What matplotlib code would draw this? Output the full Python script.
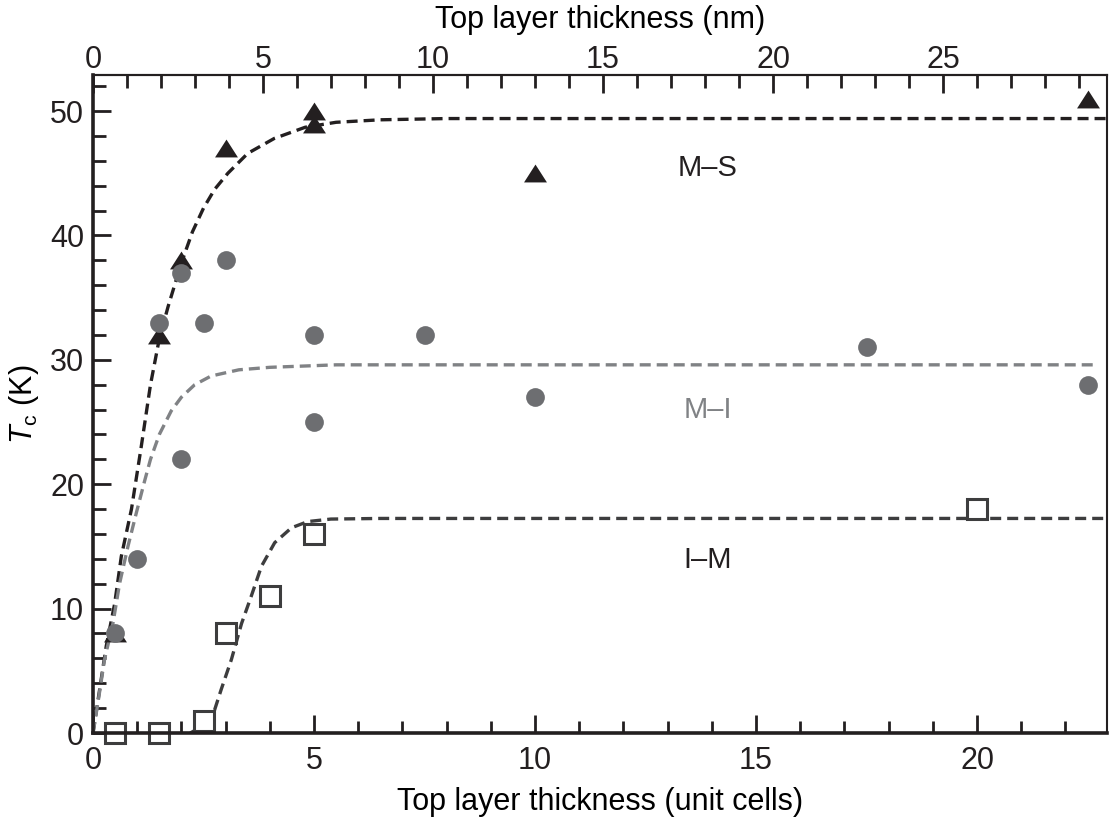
import matplotlib
matplotlib.use('Agg')
import matplotlib.pyplot as plt
from matplotlib.ticker import MultipleLocator

plt.rcParams['font.family'] = ['Liberation Sans', 'DejaVu Sans']
plt.rcParams['mathtext.fontset'] = 'custom'
plt.rcParams['mathtext.rm'] = 'Liberation Sans'
plt.rcParams['mathtext.it'] = 'Liberation Sans:italic'

# measured points
ms_x = [0.5, 1.5, 2, 3, 5, 5, 10, 22.5]
ms_y = [8, 32, 38, 47, 49, 50, 45, 51]

mi_x = [0.5, 1, 1.5, 2, 2, 2.5, 3, 5, 5, 7.5, 10, 17.5, 22.5]
mi_y = [8, 14, 33, 37, 22, 33, 38, 32, 25, 32, 27, 31, 28]

im_x = [0.5, 1.5, 2.5, 3, 4, 5, 20]
im_y = [0, 0, 1, 8, 11, 16, 18]

# dashed guide curves
ms_fit_x = [0, 0.15, 0.3, 0.49, 0.64, 0.87, 1.09, 1.3, 1.5, 1.7, 2.0, 2.25, 2.5, 2.75, 3.05, 3.5, 4.1, 4.8, 5.5, 6.5, 8, 22.94]
ms_fit_y = [0, 3.5, 7, 10.4, 14.2, 18.0, 23.0, 28.0, 31.7, 34.3, 37.8, 40.3, 42.2, 43.7, 45.0, 46.6, 47.8, 48.7, 49.1, 49.3, 49.4, 49.4]

mi_fit_x = [0, 0.11, 0.26, 0.45, 0.6, 0.79, 0.98, 1.17, 1.3, 1.5, 1.77, 2.0, 2.3, 2.67, 3.3, 4.0, 5.5, 7, 22.7]
mi_fit_y = [0, 2.4, 5.9, 8.8, 12.0, 15.0, 17.7, 20.3, 22.0, 24.0, 25.9, 27.0, 28.0, 28.7, 29.2, 29.4, 29.6, 29.6, 29.6]

im_fit_x = [2.2, 2.5, 2.75, 2.9, 3.13, 3.36, 3.58, 3.81, 4.11, 4.49, 4.86, 5.38, 6.5, 22.94]
im_fit_y = [0, 0.6, 1.85, 3.5, 5.9, 8.8, 11.0, 13.4, 15.3, 16.5, 17.0, 17.2, 17.25, 17.25]

uc_to_nm = 1.3

fig = plt.figure(figsize=(11.1, 8.19), dpi=100)
ax = fig.add_axes([0.0838, 0.105, 0.9135, 0.8034])

ax.plot(ms_fit_x, ms_fit_y, color='#231f20', lw=2.4, dashes=(3.3, 1.8))
ax.plot(mi_fit_x, mi_fit_y, color='#808285', lw=2.4, dashes=(3.3, 1.8))
ax.plot(im_fit_x, im_fit_y, color='#3d3d3e', lw=2.4, dashes=(3.3, 1.8))

tri = [(-1, -0.78), (1, -0.78), (0, 0.78), (-1, -0.78)]
ax.plot(ms_x, ms_y, ls='none', marker=tri, ms=16.5, mfc='#231f20', mec='#231f20', mew=0, clip_on=False)
ax.plot(mi_x, mi_y, ls='none', marker='o', ms=13.5, mfc='#6d6e71', mec='#6d6e71', mew=0, clip_on=False)
ax.plot(im_x, im_y, ls='none', marker='s', ms=14.5, mfc='white', mec='#3d3d3e', mew=2.2, clip_on=False)

ax.text(13.9, 45.4, 'M–S', fontsize=21, color='#231f20', ha='center', va='center')
ax.text(13.9, 26.0, 'M–I', fontsize=21, color='#808285', ha='center', va='center')
ax.text(13.9, 13.9, 'I–M', fontsize=21, color='#231f20', ha='center', va='center')

ax.set_xlim(0, 22.94)
ax.set_ylim(0, 52.9)

ax.xaxis.set_major_locator(MultipleLocator(5))
ax.xaxis.set_minor_locator(MultipleLocator(1))
ax.yaxis.set_major_locator(MultipleLocator(10))
ax.yaxis.set_minor_locator(MultipleLocator(2))

ax.tick_params(which='both', direction='in', top=False, right=False, labelsize=22, colors='#231f20')
ax.tick_params(which='major', length=13, width=2)
ax.tick_params(which='minor', length=9, width=2)
ax.tick_params(axis='x', pad=9)
ax.tick_params(axis='y', pad=6.4)

for s in ['left', 'bottom']:
    ax.spines[s].set_linewidth(2.6)
for s in ['top', 'right']:
    ax.spines[s].set_linewidth(1.5)
for s in ax.spines.values():
    s.set_color('#231f20')

ax.set_xlabel('Top layer thickness (unit cells)', fontsize=22, labelpad=8)
ax.set_ylabel(r'$T_{\mathrm{c}}$ (K)', fontsize=22, labelpad=6.4)

top = ax.secondary_xaxis('top', functions=(lambda x: x * uc_to_nm, lambda x: x / uc_to_nm))
top.set_xticks(range(0, 30, 5))
top.xaxis.set_minor_locator(MultipleLocator(1))
top.tick_params(which='both', direction='in', labelsize=22, colors='#231f20', pad=0)
top.tick_params(which='major', length=13, width=2)
top.tick_params(which='minor', length=9, width=2)
top.spines['top'].set_linewidth(1.5)
top.set_xlabel('Top layer thickness (nm)', fontsize=22, labelpad=12)

fig.savefig('out.png', dpi=100)
